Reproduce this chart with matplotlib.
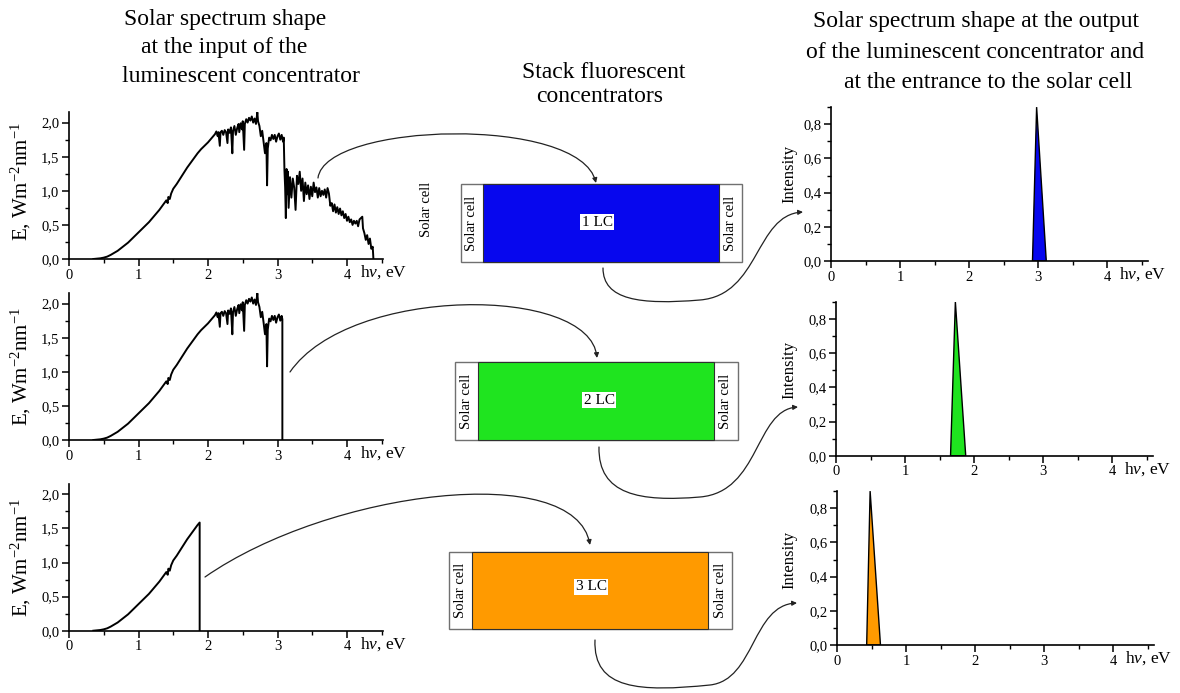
import matplotlib
matplotlib.use("Agg")
import matplotlib.pyplot as plt
import numpy as np
from matplotlib.patches import Rectangle, FancyArrowPatch
from matplotlib.path import Path
from matplotlib.ticker import MultipleLocator, FuncFormatter

plt.rcParams['font.family'] = ['Liberation Serif', 'DejaVu Serif']
plt.rcParams['mathtext.fontset'] = 'custom'
plt.rcParams['mathtext.rm'] = 'Liberation Serif'
plt.rcParams['mathtext.it'] = 'Liberation Serif:italic'
plt.rcParams['mathtext.default'] = 'regular'

# Solar spectral irradiance (W m^-2 nm^-1) versus photon energy (eV)
spec_ev = [0.35, 0.40, 0.45, 0.50, 0.55, 0.60, 0.65, 0.70, 0.75, 0.80,
           0.85, 0.90, 0.95, 1.00, 1.05, 1.10, 1.15, 1.20, 1.25, 1.30,
           1.35, 1.40, 1.42, 1.43, 1.45, 1.47, 1.50, 1.55, 1.60, 1.65,
           1.70, 1.75, 1.80, 1.85, 1.90, 1.95, 2.00, 2.05, 2.10, 2.12,
           2.14, 2.15, 2.17, 2.18, 2.20, 2.22, 2.24, 2.26, 2.28, 2.29,
           2.31, 2.33, 2.35, 2.36, 2.38, 2.40, 2.42, 2.44, 2.45, 2.47,
           2.49, 2.50, 2.52, 2.53, 2.55, 2.57, 2.59, 2.61, 2.63, 2.65,
           2.67, 2.69, 2.71, 2.72, 2.74, 2.76, 2.78, 2.80, 2.82, 2.84,
           2.85, 2.86, 2.88, 2.90, 2.92, 2.94, 2.96, 2.98, 3.00, 3.02,
           3.04, 3.06, 3.08, 3.09, 3.10, 3.11, 3.12, 3.13, 3.14, 3.15,
           3.16, 3.18, 3.20, 3.22, 3.24, 3.26, 3.28, 3.30, 3.32, 3.34,
           3.36, 3.38, 3.40, 3.42, 3.44, 3.46, 3.48, 3.50, 3.52, 3.54,
           3.56, 3.58, 3.60, 3.62, 3.64, 3.66, 3.68, 3.70, 3.72, 3.74,
           3.76, 3.78, 3.80, 3.82, 3.84, 3.86, 3.88, 3.90, 3.92, 3.94,
           3.96, 3.98, 4.00, 4.02, 4.04, 4.06, 4.08, 4.10, 4.12, 4.14,
           4.16, 4.18, 4.20, 4.22, 4.23, 4.25, 4.27, 4.29, 4.31, 4.33,
           4.35, 4.37, 4.38]
spec_e = [0.00, 0.005, 0.01, 0.02, 0.035, 0.06, 0.09, 0.12, 0.16, 0.20,
          0.24, 0.29, 0.34, 0.39, 0.44, 0.49, 0.54, 0.60, 0.66, 0.72,
          0.79, 0.86, 0.82, 0.91, 0.88, 0.96, 1.03, 1.10, 1.18, 1.26,
          1.34, 1.41, 1.48, 1.55, 1.61, 1.66, 1.71, 1.77, 1.83, 1.87,
          1.80, 1.86, 1.66, 1.86, 1.88, 1.82, 1.89, 1.86, 1.70, 1.90,
          1.85, 1.93, 1.55, 1.88, 1.95, 1.82, 1.92, 1.98, 1.86, 1.99,
          1.90, 2.02, 1.60, 1.98, 2.05, 2.00, 2.07, 2.03, 2.09, 2.00,
          2.06, 1.98, 2.15, 2.02, 1.95, 1.80, 1.88, 1.72, 1.55, 1.70,
          1.08, 1.62, 1.78, 1.74, 1.82, 1.76, 1.82, 1.72, 1.80, 1.84,
          1.75, 1.82, 1.72, 1.78, 1.30, 1.05, 0.60, 1.32, 0.95, 1.28,
          0.75, 1.20, 0.90, 1.18, 1.05, 0.72, 1.22, 1.10, 1.28, 1.00,
          1.18, 0.85, 1.12, 0.95, 1.08, 0.88, 1.06, 0.92, 1.12, 0.98,
          1.05, 0.90, 1.04, 0.92, 1.00, 0.94, 1.02, 0.90, 1.04, 0.96,
          0.78, 0.82, 0.70, 0.80, 0.68, 0.76, 0.66, 0.74, 0.64, 0.70,
          0.60, 0.66, 0.56, 0.62, 0.54, 0.58, 0.50, 0.56, 0.52, 0.56,
          0.48, 0.58, 0.60, 0.62, 0.45, 0.38, 0.28, 0.35, 0.22, 0.30,
          0.15, 0.18, 0.00]
# High-energy cut-off of the light reaching each concentrator (None = full spectrum)
cutoff_ev = [None, 3.07, 1.88]

# Emission bands leaving the three concentrators
lc_names = ['1 LC', '2 LC', '3 LC']
lc_colors = ['#0707ee', '#1fe41f', '#ff9a00']
peak_ev = [2.98, 1.73, 0.48]
peak_lo = [2.92, 1.66, 0.43]
peak_hi = [3.12, 1.88, 0.63]
peak_height = [0.90, 0.90, 0.90]

W, H = 1180, 693
fig = plt.figure(figsize=(W / 100, H / 100), dpi=100)

# Full-figure layer in pixel units for the scheme (titles, boxes, arrows)
ov = fig.add_axes([0, 0, 1, 1])
ov.set_xlim(0, W)
ov.set_ylim(H, 0)
ov.set_axis_off()


def px_axes(x0, ytop, x1, ybot):
    a = fig.add_axes([x0 / W, 1 - ybot / H, (x1 - x0) / W, (ybot - ytop) / H])
    a.patch.set_visible(False)
    return a


def comma(v, pos):
    return f"{v:.1f}".replace('.', ',')


def style_axes(ax, ymajor, yminor):
    for s in ('top', 'right'):
        ax.spines[s].set_visible(False)
    for s in ('left', 'bottom'):
        ax.spines[s].set_linewidth(1.2)
    ax.xaxis.set_major_locator(MultipleLocator(1))
    ax.xaxis.set_minor_locator(MultipleLocator(0.5))
    ax.yaxis.set_major_locator(MultipleLocator(ymajor))
    ax.yaxis.set_minor_locator(MultipleLocator(yminor))
    ax.yaxis.set_major_formatter(FuncFormatter(comma))
    ax.tick_params(which='major', direction='out', length=5, width=1.1,
                   labelsize=10.5, pad=2)
    ax.tick_params(which='minor', direction='out', length=3, width=1.0)
    ax.annotate(r'h$\mathit{\nu}$, eV', xy=(4.18, 0),
                xycoords=('data', 'axes fraction'),
                xytext=(0, -3), textcoords='offset points',
                ha='left', va='top', fontsize=12.5)


ev = np.array(spec_ev)
ee = np.array(spec_e)

# Input spectra (left column)
left_bottoms = [259, 440, 630.7]
label_y_left = [182, 367, 558]
for i, yb in enumerate(left_bottoms):
    ax = px_axes(69, yb - 2.15 * 68.2, 69 + 4.52 * 69.5, yb)
    c = cutoff_ev[i]
    if c is None:
        x, y = ev, ee
    else:
        m = ev < c
        yc = np.interp(c, ev, ee)
        x = np.concatenate([ev[m], [c, c]])
        y = np.concatenate([ee[m], [yc, 0.0]])
    ax.plot(x, y, color='black', lw=1.4)
    ax.set_xlim(0, 4.52)
    ax.set_ylim(0, 2.15)
    style_axes(ax, 0.5, 0.25)
    ov.text(21, label_y_left[i], 'E, Wm$^{-2}$nm$^{-1}$', rotation=90,
            ha='center', va='center', fontsize=15)

# Output spectra (right column)
right_x0 = [831, 836, 837]
right_bottoms = [261, 455.7, 645]
label_y_right = [174, 370, 560]
for i in range(3):
    x0 = right_x0[i]
    yb = right_bottoms[i]
    ax = px_axes(x0, yb - 0.9 * 171, x0 + 4.6 * 69, yb)
    ax.fill([peak_lo[i], peak_ev[i], peak_hi[i]], [0, peak_height[i], 0],
            facecolor=lc_colors[i], edgecolor='black', lw=1.0)
    ax.set_xlim(0, 4.6)
    ax.set_ylim(0, 0.9)
    style_axes(ax, 0.2, 0.1)
    ov.text(789, label_y_right[i], 'Intensity', rotation=90,
            ha='center', va='center', fontsize=12)

# Stack of luminescent concentrators with solar cells on both edges
boxes = [(460.7, 741.7, 184, 262, 482.7, 719.0),
         (455.0, 737.7, 362, 440, 477.7, 714.0),
         (449.0, 732.0, 551.7, 629, 472.0, 708.0)]
lc_label_pos = [(597, 222), (599, 400), (591, 587)]
for i, (ox0, ox1, oy0, oy1, ix0, ix1) in enumerate(boxes):
    ov.add_patch(Rectangle((ox0, oy0), ox1 - ox0, oy1 - oy0, facecolor='white',
                           edgecolor='#707070', lw=1.0))
    ov.add_patch(Rectangle((ix0, oy0), ix1 - ix0, oy1 - oy0, facecolor=lc_colors[i],
                           edgecolor='#303030', lw=0.8))
    for cx in ((ox0 + ix0) / 2, (ix1 + ox1) / 2):
        ov.text(cx, (oy0 + oy1) / 2, 'Solar cell', rotation=90,
                ha='center', va='center', fontsize=10.5)
    lx, ly = lc_label_pos[i]
    ov.text(lx, ly, lc_names[i], ha='center', va='center', fontsize=11,
            bbox=dict(boxstyle='square,pad=0.12', facecolor='white',
                      edgecolor='none'))
ov.text(427, 209, 'Solar cell', rotation=90, ha='center', va='center',
        fontsize=10.5)

# Curved connecting arrows
C4 = Path.CURVE4
arrow_paths = [
    [(318, 178), (325, 122), (580, 115), (596, 183)],
    [(603, 268), (603, 300), (640, 305), (700, 300),
     (760, 295), (755, 215), (803, 212)],
    [(290, 372), (350, 285), (590, 285), (597, 358)],
    [(599, 447), (598, 495), (640, 502), (700, 497),
     (760, 492), (755, 410), (798, 407)],
    [(205, 577), (330, 490), (575, 460), (590, 545)],
    [(595, 640), (593, 690), (640, 692), (710, 685),
     (755, 680), (752, 605), (797, 603)],
]
for verts in arrow_paths:
    codes = [Path.MOVETO] + [C4] * (len(verts) - 1)
    ov.add_patch(FancyArrowPatch(path=Path(verts, codes), arrowstyle='-|>',
                                 mutation_scale=7, lw=0.9, color='#222222'))

# Column headings
headings = [
    ('Solar spectrum shape', 225, 20),
    ('at the input of the', 224, 48),
    ('luminescent concentrator', 241, 76),
    ('Stack fluorescent', 604, 72),
    ('concentrators', 600, 96),
    ('Solar spectrum shape at the output', 976, 22),
    ('of the luminescent concentrator and', 975, 52),
    ('at the entrance to the solar cell', 988, 82),
]
for txt, x, y in headings:
    ov.text(x, y, txt, ha='center', va='center', fontsize=17)

fig.savefig('out.png', dpi=100)
